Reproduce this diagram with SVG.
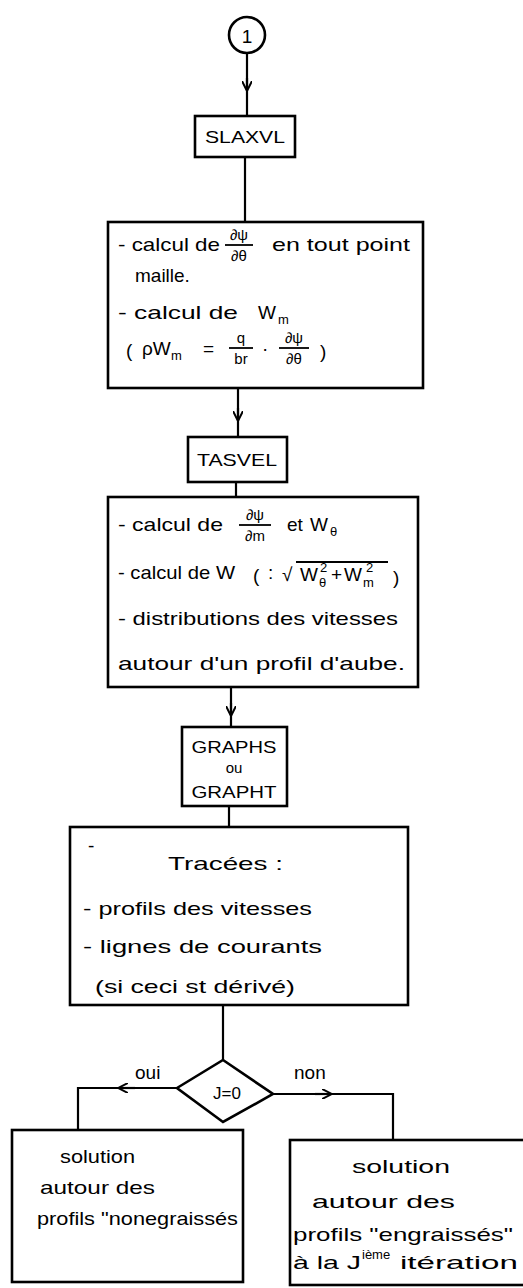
<svg xmlns="http://www.w3.org/2000/svg" width="523" height="1288" viewBox="0 0 523 1288">
<style>
.b{fill:#fff;stroke:#000;stroke-width:2.6}
.c{fill:none;stroke:#000;stroke-width:2.2}
.f{fill:none;stroke:#000;stroke-width:1.8}
.t{font-family:"Liberation Sans",Arial,sans-serif;font-size:19px;fill:#000}
.s{font-family:"Liberation Sans",Arial,sans-serif;font-size:15px;fill:#000}
.u{font-family:"Liberation Sans",Arial,sans-serif;font-size:13px;fill:#000}
.k{font-family:"Liberation Sans",Arial,sans-serif;font-size:17px;fill:#000}
</style>
<defs>
<marker id="ah" viewBox="0 0 10 10" refX="5" refY="5" markerWidth="10" markerHeight="10" orient="auto" markerUnits="userSpaceOnUse"><path d="M0,0 L10,5 L0,10" fill="none" stroke="#000" stroke-width="2"/></marker>
</defs>
<rect width="523" height="1288" fill="#fff"/>
<g id="connectors">
<path class="c" d="M247,53 V116"/><path class="c" d="M247,78 V86" marker-end="url(#ah)"/>
<path class="c" d="M245,157 V222"/>
<path class="c" d="M238,388 V437"/><path class="c" d="M238,408 V416" marker-end="url(#ah)"/>
<path class="c" d="M236,482 V497"/>
<path class="c" d="M231,687 V727"/><path class="c" d="M231,703 V711" marker-end="url(#ah)"/>
<path class="c" d="M229,806 V827"/>
<path class="c" d="M223,1005 V1060"/>
<path class="c" d="M177,1088 H78 V1130"/><path class="c" d="M135,1088 H123" marker-end="url(#ah)"/>
<path class="c" d="M273,1094 H393 V1140"/><path class="c" d="M315,1094 H327" marker-end="url(#ah)"/>
<text class="t" x="135" y="1079">oui</text>
<text class="t" x="294" y="1079">non</text>
</g>
<g id="start"><circle class="b" cx="247" cy="35" r="18"/><text class="t" x="247" y="43" text-anchor="middle" font-size="24">1</text></g>
<g id="slaxvl"><rect class="b" x="195" y="116" width="100" height="41"/><text class="k" x="205" y="143" textLength="80" lengthAdjust="spacingAndGlyphs">SLAXVL</text></g>
<g id="box1">
<rect class="b" x="108" y="222" width="315" height="166"/>
<text class="t" x="118" y="251" textLength="102" lengthAdjust="spacingAndGlyphs">- calcul de</text>
<text class="s" x="239" y="240" text-anchor="middle">∂ψ</text><path class="f" d="M225,245 H253"/><text class="s" x="239" y="261" text-anchor="middle">∂θ</text>
<text class="t" x="272" y="251" textLength="138" lengthAdjust="spacingAndGlyphs">en tout point</text>
<text class="t" x="135" y="282">maille.</text>
<text class="t" x="118" y="319" textLength="120" lengthAdjust="spacingAndGlyphs">- calcul de</text>
<text class="t" x="258" y="319">W</text><text class="u" x="278" y="324">m</text>
<text class="t" x="126" y="357" font-size="24">(</text>
<text class="t" x="142" y="355">ρW</text><text class="u" x="171" y="360">m</text>
<text class="t" x="203" y="355">=</text>
<text class="s" x="241" y="343" text-anchor="middle">q</text><path class="f" d="M229,348 H253"/><text class="s" x="241" y="364" text-anchor="middle">br</text>
<text class="t" x="262" y="355">·</text>
<text class="s" x="294" y="343" text-anchor="middle">∂ψ</text><path class="f" d="M279,348 H309"/><text class="s" x="294" y="364" text-anchor="middle">∂θ</text>
<text class="t" x="320" y="358" font-size="24">)</text>
</g>
<g id="tasvel"><rect class="b" x="188" y="437" width="99" height="45"/><text class="k" x="197" y="466" textLength="80" lengthAdjust="spacingAndGlyphs">TASVEL</text></g>
<g id="box2">
<rect class="b" x="108" y="497" width="310" height="190"/>
<text class="t" x="118" y="531" textLength="105" lengthAdjust="spacingAndGlyphs">- calcul de</text>
<text class="s" x="255" y="520" text-anchor="middle">∂ψ</text><path class="f" d="M239,525 H271"/><text class="s" x="255" y="541" text-anchor="middle">∂m</text>
<text class="t" x="287" y="531">et</text>
<text class="t" x="310" y="531">W</text><text class="u" x="330" y="536">θ</text>
<text class="t" x="118" y="579" textLength="117" lengthAdjust="spacingAndGlyphs">- calcul de W</text>
<text class="t" x="253" y="582" font-size="26">(</text>
<text class="t" x="268" y="579">:</text>
<text class="t" x="282" y="581" font-size="22">√</text>
<path class="f" d="M296,562 H388"/>
<text class="t" x="300" y="581">W</text><text class="u" x="319" y="587">θ</text><text class="u" x="320" y="572" font-size="11">2</text>
<text class="t" x="331" y="581">+</text>
<text class="t" x="344" y="581">W</text><text class="u" x="363" y="587">m</text><text class="u" x="366" y="572" font-size="11">2</text>
<text class="t" x="393" y="584" font-size="28">)</text>
<text class="t" x="118" y="625" textLength="280" lengthAdjust="spacingAndGlyphs">- distributions des vitesses</text>
<text class="t" x="118" y="670" textLength="287" lengthAdjust="spacingAndGlyphs">autour d'un profil d'aube.</text>
</g>
<g id="graphs">
<rect class="b" x="182" y="727" width="105" height="79"/>
<text class="k" x="234" y="753" text-anchor="middle" textLength="85" lengthAdjust="spacingAndGlyphs">GRAPHS</text>
<text class="s" x="234" y="773" text-anchor="middle">ou</text>
<text class="k" x="234" y="798" text-anchor="middle" textLength="85" lengthAdjust="spacingAndGlyphs">GRAPHT</text>
</g>
<g id="box3">
<rect class="b" x="70" y="827" width="338" height="178"/>
<text class="t" x="88" y="852">-</text>
<text class="t" x="168" y="870" textLength="115" lengthAdjust="spacingAndGlyphs">Tracées :</text>
<text class="t" x="83" y="915" textLength="229" lengthAdjust="spacingAndGlyphs">- profils des vitesses</text>
<text class="t" x="83" y="953" textLength="239" lengthAdjust="spacingAndGlyphs">- lignes de courants</text>
<text class="t" x="95" y="993" textLength="200" lengthAdjust="spacingAndGlyphs">(si ceci st dérivé)</text>
</g>
<g id="decision">
<polygon class="b" points="223,1060 273,1094 223,1122 177,1088"/>
<text class="k" x="227" y="1099" text-anchor="middle">J=0</text>
</g>
<g id="left">
<rect class="b" x="12" y="1130" width="231" height="152"/>
<text class="t" x="60" y="1163" textLength="75" lengthAdjust="spacingAndGlyphs">solution</text>
<text class="t" x="40" y="1194" textLength="115" lengthAdjust="spacingAndGlyphs">autour des</text>
<text class="t" x="37" y="1225" textLength="201" lengthAdjust="spacingAndGlyphs">profils "nonegraissés</text>
</g>
<g id="right">
<rect class="b" x="290" y="1140" width="240" height="145"/>
<text class="t" x="352" y="1173" font-size="21" textLength="98" lengthAdjust="spacingAndGlyphs">solution</text>
<text class="t" x="312" y="1208" font-size="21" textLength="143" lengthAdjust="spacingAndGlyphs">autour des</text>
<text class="t" x="293" y="1241" textLength="220" lengthAdjust="spacingAndGlyphs">profils "engraissés"</text>
<text class="t" x="293" y="1269" textLength="68" lengthAdjust="spacingAndGlyphs">à la J</text>
<text class="u" x="362" y="1259" font-size="12">ième</text>
<text class="t" x="400" y="1269" textLength="118" lengthAdjust="spacingAndGlyphs">itération</text>
</g>
</svg>
